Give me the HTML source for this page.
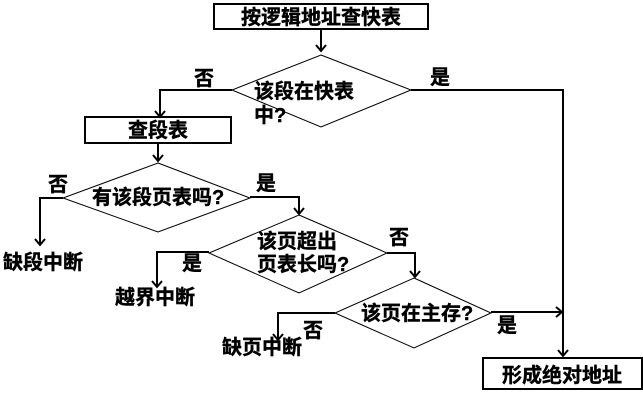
<!DOCTYPE html>
<html>
<head>
<meta charset="utf-8">
<style>
html,body{margin:0;padding:0;background:#fff;width:643px;height:400px;overflow:hidden}
svg{display:block}
text{font-family:"Liberation Sans","Noto Sans CJK SC",sans-serif;font-weight:700;font-size:20px;fill:#000;stroke:#000;stroke-width:.4px}
</style>
</head>
<body>
<svg width="643" height="400" viewBox="0 0 643 400" xmlns="http://www.w3.org/2000/svg">
<defs>
<marker id="a" markerUnits="userSpaceOnUse" markerWidth="12" markerHeight="12" refX="9" refY="6" orient="auto">
<path d="M3 1 L9 6 L3 11" fill="none" stroke="#000" stroke-width="2"/>
</marker>
</defs>
<g fill="#fff" stroke="#000" stroke-width="2">
<rect x="214" y="4" width="214" height="25"/>
<rect x="85" y="117" width="146" height="26"/>
<rect x="483" y="358" width="159" height="31"/>
</g>
<g fill="none" stroke="#000" stroke-width="1">
<polygon points="321,55 411,90 321,127 232,90"/>
<polygon points="158,163 250,198 158,232 63,198"/>
<polygon points="299,215 387,253 299,293 209,253"/>
<polygon points="414,278 491,313 414,348 335,313"/>
</g>
<g fill="none" stroke="#000" stroke-width="2" marker-end="url(#a)">
<path d="M321 30 V51"/>
<path d="M232 90 H160 V117"/>
<path d="M158 143 V161"/>
<path d="M63 198 H40 V245"/>
<path d="M250 197 H299 V214"/>
<path d="M209 252 H157 V287"/>
<path d="M387 253 H415 V277"/>
<path d="M335 313 H278 V340"/>
<path d="M491 312 H562"/>
<path d="M411 90 H563 V356"/>
</g>
<text x="241" y="24">按逻辑地址查快表</text>
<text x="194" y="85">否</text>
<text x="254" y="98">该段在快表</text>
<text x="254" y="122">中?</text>
<text x="430" y="84">是</text>
<text x="128" y="137">查段表</text>
<text x="48" y="191">否</text>
<text x="92" y="204">有该段页表吗?</text>
<text x="256" y="190">是</text>
<text x="3" y="269">缺段中断</text>
<text x="257" y="248">该页超出</text>
<text x="257" y="271">页表长吗?</text>
<text x="182" y="270">是</text>
<text x="389" y="244">否</text>
<text x="115" y="304">越界中断</text>
<text x="361" y="320">该页在主存?</text>
<text x="303" y="337">否</text>
<text x="497" y="332">是</text>
<text x="222" y="354">缺页中断</text>
<text x="502" y="382">形成绝对地址</text>
</svg>
</body>
</html>
